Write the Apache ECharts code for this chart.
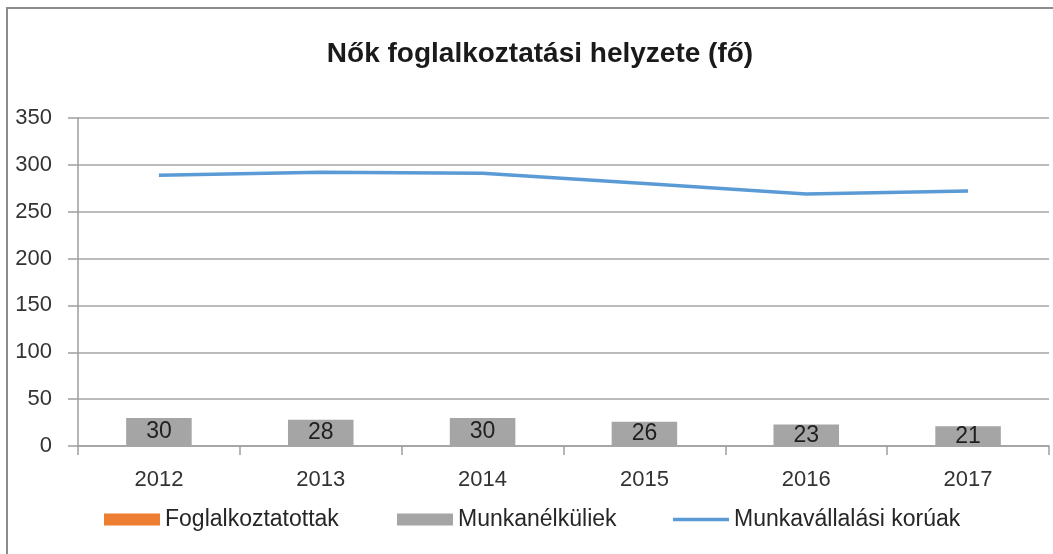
<!DOCTYPE html>
<html>
<head>
<meta charset="utf-8">
<script src="https://cdn.jsdelivr.net/npm/echarts@6/dist/echarts.min.js"></script>
<style>
  html, body { margin: 0; padding: 0; background: #fff; overflow: hidden; }
  #wrap { position: relative; width: 1053px; height: 554px; overflow: hidden; }
  #frameTop { position: absolute; left: 6px; top: 7px; width: 1060px; height: 2px; background: #8c8c8c; }
  #frameLeft { position: absolute; left: 6px; top: 7px; width: 2px; height: 560px; background: #8c8c8c; }
  #chart { position: absolute; left: 0; top: 0; width: 1053px; height: 554px; }
</style>
</head>
<body>
<div id="wrap">
  <div id="frameTop"></div>
  <div id="frameLeft"></div>
  <div id="chart"></div>
</div>
<script>
const titleText = 'Nők foglalkoztatási helyzete (fő)';
const years = ['2012', '2013', '2014', '2015', '2016', '2017'];
const foglalkoztatottak = [];
const munkanelkuliek = [30, 28, 30, 26, 23, 21];
const munkavallalasiKoruak = [289, 292, 291, 280, 269, 272];
const seriesNames = ['Foglalkoztatottak', 'Munkanélküliek', 'Munkavállalási korúak'];
const yMin = 0, yMax = 350, yStep = 50;

const FONT = '"Liberation Sans", Arial, sans-serif';
const chart = echarts.init(document.getElementById('chart'), null, { renderer: 'canvas' });

const legendText = { fontFamily: FONT, fontSize: 23, color: '#262626' };
const legendBase = { top: 508, itemWidth: 56, itemHeight: 12, itemGap: 0, textStyle: legendText, padding: 0, selectedMode: false };

chart.setOption({
  animation: false,
  title: {
    text: titleText,
    left: 535,
    top: 35,
    textAlign: 'center',
    textStyle: { fontFamily: FONT, fontSize: 28, fontWeight: 'bold', color: '#1a1a1a' }
  },
  legend: [
    Object.assign({}, legendBase, { left: 104, data: [{ name: seriesNames[0], icon: 'rect' }] }),
    Object.assign({}, legendBase, { left: 397, data: [{ name: seriesNames[1], icon: 'rect' }] }),
    Object.assign({}, legendBase, { left: 673, itemHeight: 3.5, data: [{ name: seriesNames[2], icon: 'rect', itemStyle: { color: '#5b9bd5' } }] })
  ],
  grid: { left: 78, right: 4, top: 118, bottom: 108, containLabel: false },
  xAxis: {
    type: 'category',
    data: years,
    boundaryGap: true,
    axisLine: { lineStyle: { color: '#9e9e9e', width: 1.5 } },
    axisTick: { show: true, length: 9, lineStyle: { color: '#9e9e9e', width: 1.5 } },
    axisLabel: { fontFamily: FONT, fontSize: 22, color: '#333', margin: 23 }
  },
  yAxis: {
    type: 'value',
    min: yMin,
    max: yMax,
    interval: yStep,
    axisLine: { show: true, lineStyle: { color: '#9e9e9e', width: 1.5 } },
    axisTick: { show: true, length: 10, lineStyle: { color: '#9e9e9e', width: 1.5 } },
    axisLabel: { fontFamily: FONT, fontSize: 22, color: '#333', margin: 26 },
    splitLine: { show: true, lineStyle: { color: '#a6a6a6', width: 1.5 } }
  },
  series: [
    {
      name: seriesNames[0],
      type: 'bar',
      stack: 'cols',
      data: foglalkoztatottak,
      barWidth: '40.5%',
      itemStyle: { color: '#ed7d31' }
    },
    {
      name: seriesNames[1],
      type: 'bar',
      stack: 'cols',
      data: munkanelkuliek,
      barWidth: '40.5%',
      itemStyle: { color: '#a5a5a5' },
      label: {
        show: true,
        position: 'inside',
        fontFamily: FONT,
        fontSize: 23,
        color: '#1f1f1f'
      }
    },
    {
      name: seriesNames[2],
      type: 'line',
      data: munkavallalasiKoruak,
      symbol: 'none',
      lineStyle: { color: '#5b9bd5', width: 3.5 },
      itemStyle: { color: '#5b9bd5' }
    }
  ]
});
</script>
</body>
</html>
